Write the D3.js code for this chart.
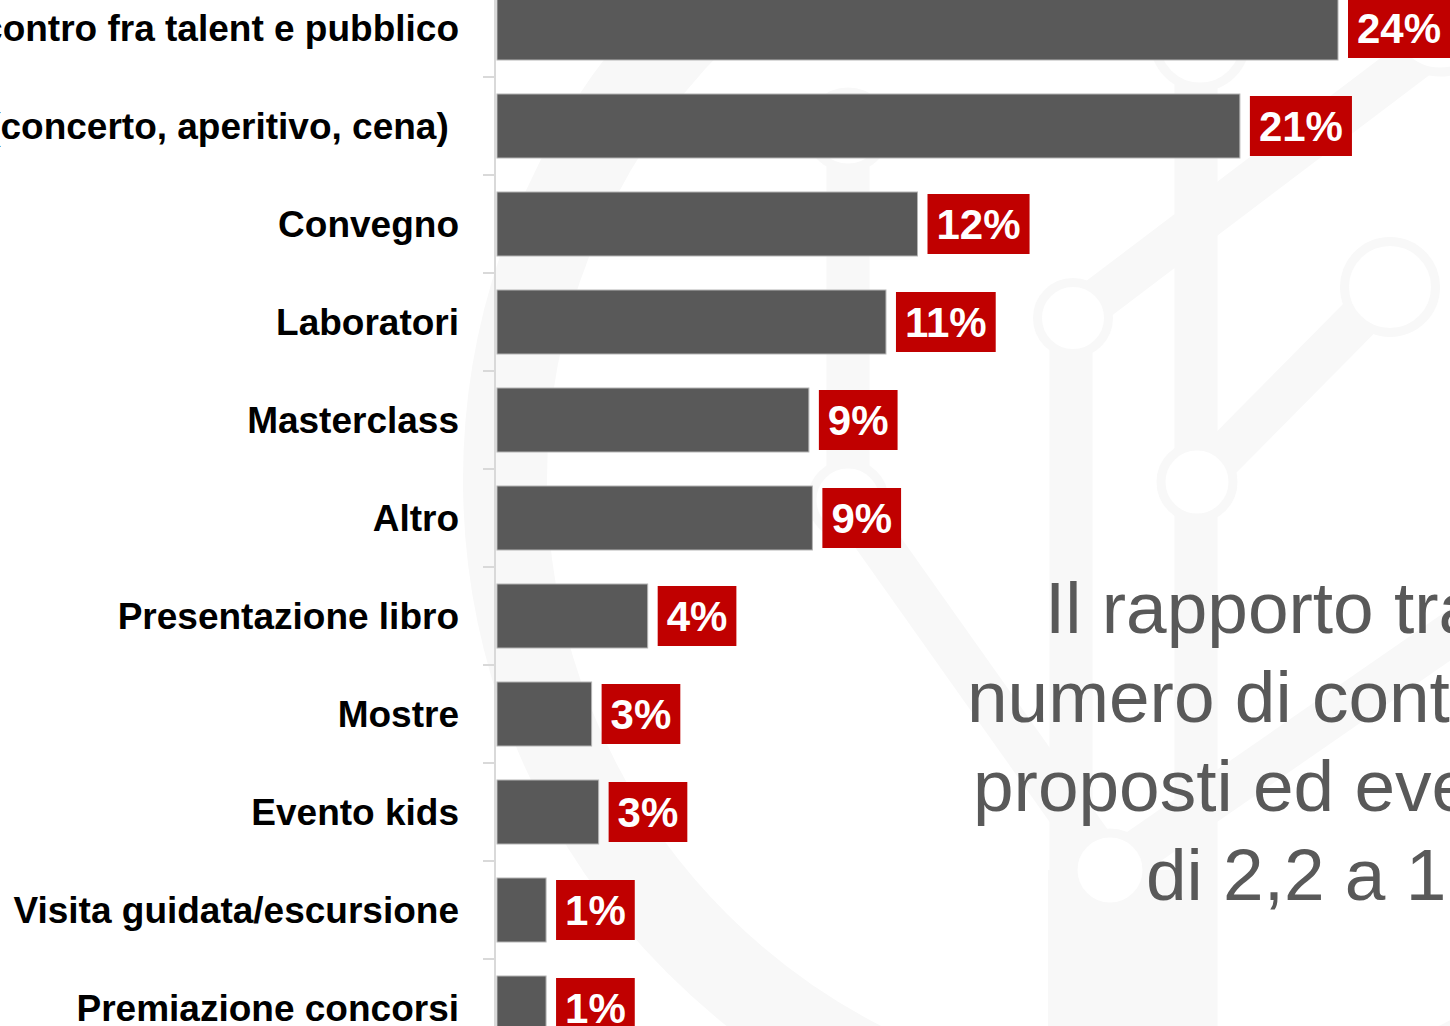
<!DOCTYPE html>
<html>
<head>
<meta charset="utf-8">
<script src="https://cdn.jsdelivr.net/npm/d3@7"></script>
<style>
  html, body { margin: 0; padding: 0; background: #ffffff; overflow: hidden; }
  svg { display: block; }
  text { font-family: "Liberation Sans", Arial, Helvetica, sans-serif; }
</style>
</head>
<body>
<svg id="chart" width="1450" height="1026"></svg>
<script>
// ---- data ----
const categories = [
  "Incontro fra talent e pubblico",
  "Intrattenimento (concerto, aperitivo, cena) ",
  "Convegno",
  "Laboratori",
  "Masterclass",
  "Altro",
  "Presentazione libro",
  "Mostre",
  "Evento kids",
  "Visita guidata/escursione",
  "Premiazione concorsi"
];
const values = [24.0, 21.2, 12.0, 11.1, 8.9, 9.0, 4.3, 2.7, 2.9, 1.4, 1.4];
const valueLabels = ["24%", "21%", "12%", "11%", "9%", "9%", "4%", "3%", "3%", "1%", "1%"];
const sideTextLines = ["Il rapporto tra il", "numero di contenuti", "proposti ed eventi", "di 2,2 a 1"];

// ---- setup ----
const W = 1450, H = 1026;
const svg = d3.select("#chart");
const wm = "#f8f8f8";

// ---- background watermark ----
const gW = svg.append("g").attr("class", "watermark");
gW.append("circle").attr("cx", 1160).attr("cy", 480).attr("r", 655)
  .attr("fill", "none").attr("stroke", wm).attr("stroke-width", 84);
const bands = [
  [[848, 130], [848, 500]],
  [[1071, 318], [1071, 1060]],
  [[1196, 42], [1196, 1060]],
  [[1073, 318], [1440, 40]],
  [[1197, 482], [1390, 287]],
  [[848, 500], [1110, 870]],
  [[1110, 870], [1500, 600]],
  [[1110, 870], [1110, 1060]]
];
gW.selectAll("line.band").data(bands).join("line").attr("class", "band")
  .attr("x1", d => d[0][0]).attr("y1", d => d[0][1])
  .attr("x2", d => d[1][0]).attr("y2", d => d[1][1])
  .attr("stroke", wm).attr("stroke-width", 43);
gW.append("rect").attr("x", 1048).attr("y", 870).attr("width", 168).attr("height", 200).attr("fill", wm);
const rings = [
  [848, 130, 38], [848, 500, 36], [1073, 318, 35.5], [1197, 482, 36],
  [1390, 287, 45.5], [1440, 22, 50], [1200, 42, 45], [1110, 870, 37]
];
gW.selectAll("circle.ring").data(rings).join("circle").attr("class", "ring")
  .attr("cx", d => d[0]).attr("cy", d => d[1]).attr("r", d => d[2])
  .attr("fill", "#ffffff").attr("stroke", wm).attr("stroke-width", 9);

// ---- side text ----
const sideX = [1045, 967, 973, 1146];
const sideY = d3.scaleLinear().domain([0, 1]).range([633, 722]);
svg.append("g").selectAll("text").data(sideTextLines).join("text")
  .attr("x", (d, i) => sideX[i]).attr("y", (d, i) => sideY(i))
  .attr("font-size", 73).attr("fill", "#595959").text(d => d);

// ---- scales ----
const x = d3.scaleLinear().domain([0, 24]).range([497, 1338]);
const y = d3.scaleBand().domain(categories).range([-21, -21 + 98 * categories.length])
  .paddingInner(0.347).paddingOuter(0.1735);

// ---- axis ----
const gA = svg.append("g");
gA.append("line").attr("x1", 495).attr("x2", 495).attr("y1", 0).attr("y2", H)
  .attr("stroke", "#d9d9d9").attr("stroke-width", 2);
const boundaries = d3.range(1, categories.length).map(i => y.range()[0] + y.step() * i);
gA.selectAll("line.tick").data(boundaries).join("line").attr("class", "tick")
  .attr("x1", 483).attr("x2", 495).attr("y1", d => d).attr("y2", d => d)
  .attr("stroke", "#d9d9d9").attr("stroke-width", 2);

// ---- category labels ----
svg.append("g").selectAll("text").data(categories).join("text")
  .attr("x", 459).attr("y", d => y(d) + y.bandwidth() / 2).attr("dy", "0.35em")
  .attr("text-anchor", "end").attr("font-size", 37).attr("font-weight", "bold")
  .attr("fill", "#000000").style("white-space", "pre").text(d => d);

// ---- bars ----
const rows = categories.map((c, i) => ({ c, v: values[i], l: valueLabels[i] }));
svg.append("g").selectAll("rect").data(rows).join("rect")
  .attr("x", x(0)).attr("y", d => y(d.c))
  .attr("width", d => x(d.v) - x(0)).attr("height", y.bandwidth())
  .attr("fill", "#595959").attr("stroke", "#b4b4b4").attr("stroke-width", 1);

// ---- value labels ----
const gL = svg.append("g").selectAll("g").data(rows).join("g")
  .attr("transform", d => `translate(${x(d.v) + 10},${y(d.c) + y.bandwidth() / 2})`);
const boxRect = gL.append("rect").attr("y", -30).attr("height", 60).attr("fill", "#c00000");
const boxText = gL.append("text").attr("x", 9).attr("dy", "0.36em")
  .attr("font-size", 42).attr("font-weight", "bold").attr("fill", "#ffffff").text(d => d.l);
boxText.each(function (d) { d.tw = this.getComputedTextLength(); });
boxRect.attr("width", d => d.tw + 18);
</script>
</body>
</html>
